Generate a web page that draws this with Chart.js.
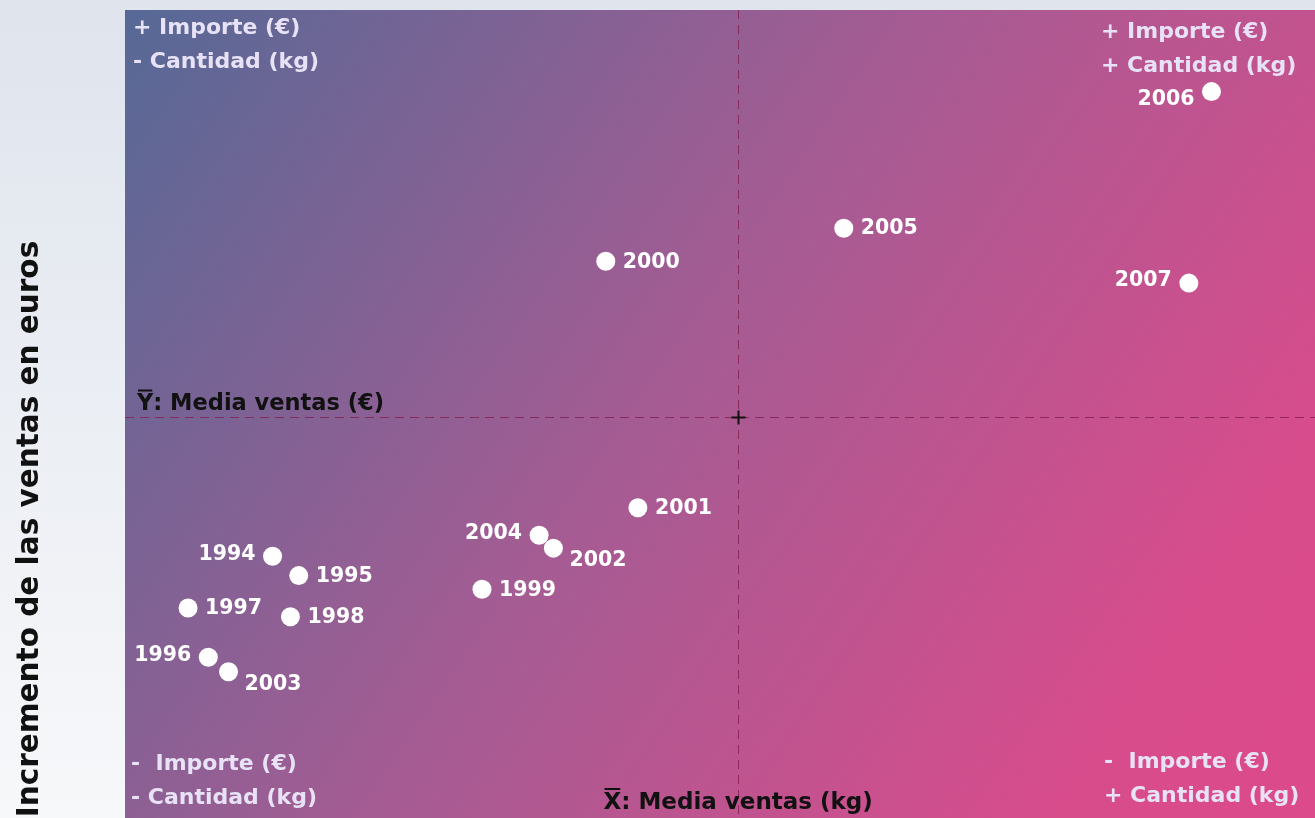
<!DOCTYPE html>
<html>
<head>
<meta charset="utf-8">
<script src="https://cdn.jsdelivr.net/npm/chart.js@4.4.1/dist/chart.umd.min.js"></script>
<style>
  html, body { margin: 0; padding: 0; background: #f6f7fa; }
  #wrap { width: 1315px; height: 818px; position: relative; }
</style>
</head>
<body>
<div id="wrap"><canvas id="c" width="1315" height="818"></canvas></div>
<script>
// ---- Data (units: relative index 0-100) ----
const years = ['1994','1995','1996','1997','1998','1999','2000','2001','2002','2003','2004','2005','2006','2007'];
const kgValues   = [12.4, 14.6, 7.0, 5.3, 13.9, 30.0, 40.4, 43.1, 36.0, 8.7, 34.8, 60.4, 91.3, 89.4];
const euroValues = [32.4, 30.0, 19.9, 26.0, 24.9, 28.3, 68.9, 38.4, 33.4, 18.1, 35.0, 73.0, 89.9, 66.2];
const meanKg = 51.5;
const meanEuro = 49.6;

const yAxisTitle = 'Incremento de las ventas en euros';
const xMeanLabel = ': Media ventas (kg)';
const yMeanLabel = ': Media ventas (€)';
const quadrantTexts = {
  tl: ['+ Importe (€)', '- Cantidad (kg)'],
  tr: ['+ Importe (€)', '+ Cantidad (kg)'],
  bl: ['-  Importe (€)', '- Cantidad (kg)'],
  br: ['-  Importe (€)', '+ Cantidad (kg)']
};

// label placement (style only)
const labelSide = ['left','right','left','right','right','right','right','right','below','below','left','right','leftLow','left'];

const FONT = '"DejaVu Sans", sans-serif';

const decor = {
  id: 'decor',
  beforeDraw(chart) {
    const ctx = chart.ctx;
    const W = chart.width, H = chart.height;
    const a = chart.chartArea;
    ctx.save();
    // page background
    const pg = ctx.createLinearGradient(0, 0, 0, H);
    pg.addColorStop(0, '#dfe4ed');
    pg.addColorStop(1, '#f7f8fa');
    ctx.fillStyle = pg;
    ctx.fillRect(0, 0, W, H);
    // plot gradient
    const g = ctx.createLinearGradient(a.left, a.top, a.right, a.bottom);
    g.addColorStop(0, '#566996');
    g.addColorStop(0.45, '#a45c93');
    g.addColorStop(0.85, '#d84c8c');
    g.addColorStop(1, '#dc4a8b');
    ctx.fillStyle = g;
    ctx.fillRect(a.left, a.top, a.right - a.left, a.bottom - a.top);

    // mean lines
    const xs = chart.scales.x, ys = chart.scales.y;
    const mx = Math.round(xs.getPixelForValue(meanKg)) + 0.5;
    const my = Math.round(ys.getPixelForValue(meanEuro)) + 0.5;
    ctx.strokeStyle = 'rgba(130,30,80,0.8)';
    ctx.lineWidth = 1;
    ctx.setLineDash([9, 6]);
    ctx.beginPath();
    ctx.moveTo(a.left, my); ctx.lineTo(a.right, my);
    ctx.moveTo(mx, a.top); ctx.lineTo(mx, a.bottom);
    ctx.stroke();
    ctx.setLineDash([]);
    // crosshair
    ctx.strokeStyle = '#111';
    ctx.lineWidth = 2;
    ctx.beginPath();
    ctx.moveTo(mx - 7, my); ctx.lineTo(mx + 7, my);
    ctx.moveTo(mx, my - 7); ctx.lineTo(mx, my + 7);
    ctx.stroke();

    // quadrant texts
    ctx.font = 'bold 22px ' + FONT;
    ctx.fillStyle = '#e8e2f6';
    ctx.textBaseline = 'middle';
    ctx.textAlign = 'left';
    const q = (lines, x, y1, y2) => { ctx.fillText(lines[0], x, y1); ctx.fillText(lines[1], x, y2); };
    q(quadrantTexts.tl, a.left + 8, 28, 62);
    q(quadrantTexts.tr, 1101, 32, 66);
    q(quadrantTexts.bl, a.left + 6, 764, 798);
    q(quadrantTexts.br, 1104, 762, 796);

    // mean labels
    ctx.fillStyle = '#111';
    ctx.font = 'bold 22.5px ' + FONT;
    const drawBar = (letter, x, y, rest) => {
      ctx.fillText(letter, x, y);
      const w = ctx.measureText(letter).width;
      ctx.fillRect(x + 1, y - 15, w - 2, 2);
      ctx.fillText(rest, x + w, y);
    };
    drawBar('Y', a.left + 12, my - 13, yMeanLabel);
    ctx.font = 'bold 23px ' + FONT;
    drawBar('X', mx - 135, 803, xMeanLabel);

    // y-axis title
    ctx.save();
    ctx.translate(30, 529);
    ctx.rotate(-Math.PI / 2);
    ctx.textAlign = 'center';
    ctx.font = 'bold 29.5px ' + FONT;
    ctx.fillStyle = '#111';
    ctx.fillText(yAxisTitle, 0, 0);
    ctx.restore();
    ctx.restore();
  },
  afterDatasetsDraw(chart) {
    const ctx = chart.ctx;
    const meta = chart.getDatasetMeta(0);
    ctx.save();
    ctx.font = 'bold 20.5px ' + FONT;
    ctx.fillStyle = '#ffffff';
    ctx.textBaseline = 'middle';
    meta.data.forEach((pt, i) => {
      const side = labelSide[i];
      let x = pt.x, y = pt.y;
      if (side === 'right') { ctx.textAlign = 'left'; x += 17; y += 1; }
      else if (side === 'left') { ctx.textAlign = 'right'; x -= 17; y -= 2; }
      else if (side === 'leftLow') { ctx.textAlign = 'right'; x -= 17; y += 8; }
      else if (side === 'below') { ctx.textAlign = 'left'; x += 16; y += 13; }
      ctx.fillText(years[i], x, y);
    });
    ctx.restore();
  }
};

new Chart(document.getElementById('c'), {
  type: 'scatter',
  data: {
    datasets: [{
      data: kgValues.map((v, i) => ({ x: v, y: euroValues[i] })),
      backgroundColor: '#ffffff',
      borderColor: '#ffffff',
      pointRadius: 9.5,
      pointHoverRadius: 9.5,
      borderWidth: 0
    }]
  },
  options: {
    responsive: false,
    animation: false,
    events: [],
    layout: { autoPadding: false, padding: { left: 125, top: 10, right: 0, bottom: 0 } },
    plugins: { legend: { display: false }, tooltip: { enabled: false } },
    scales: {
      x: { type: 'linear', min: 0, max: 100, display: false },
      y: { type: 'linear', min: 0, max: 100, display: false }
    }
  },
  plugins: [decor]
});
</script>
</body>
</html>
